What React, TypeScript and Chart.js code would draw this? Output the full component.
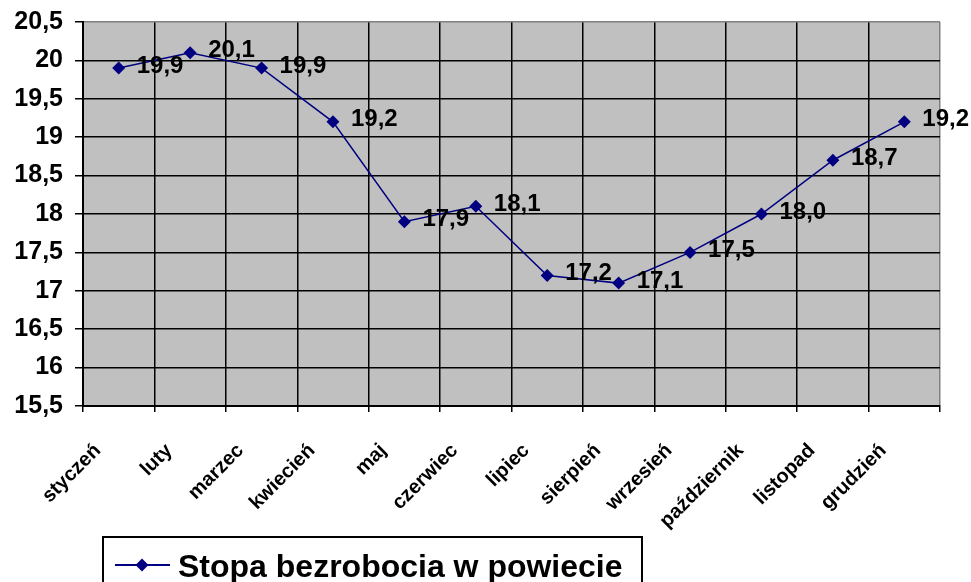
import React, { useEffect, useRef } from "react";
import { Chart, registerables } from "chart.js";

Chart.register(...registerables);

const months = [
  "styczeń",
  "luty",
  "marzec",
  "kwiecień",
  "maj",
  "czerwiec",
  "lipiec",
  "sierpień",
  "wrzesień",
  "październik",
  "listopad",
  "grudzień",
];
const rates = [19.9, 20.1, 19.9, 19.2, 17.9, 18.1, 17.2, 17.1, 17.5, 18.0, 18.7, 19.2];
const seriesLabel = "Stopa bezrobocia w powiecie";
const yMin = 15.5;
const yMax = 20.5;
const yStep = 0.5;

const FONT = "'Liberation Sans', Arial, sans-serif";
const LINE_COLOR = "#000080";

const fmt = (v: number, digits?: number) =>
  (digits === undefined ? String(v) : v.toFixed(digits)).replace(".", ",");

const plotBackground = {
  id: "plotBackground",
  beforeDraw(chart: any) {
    const { ctx, chartArea } = chart;
    ctx.save();
    ctx.fillStyle = "#C0C0C0";
    ctx.fillRect(chartArea.left, chartArea.top, chartArea.right - chartArea.left, chartArea.bottom - chartArea.top);
    ctx.restore();
  },
};

const valueLabels = {
  id: "valueLabels",
  afterDatasetsDraw(chart: any) {
    const { ctx } = chart;
    const meta = chart.getDatasetMeta(0);
    const data = chart.data.datasets[0].data as number[];
    ctx.save();
    ctx.font = `bold 24px ${FONT}`;
    ctx.fillStyle = "#000";
    ctx.textAlign = "left";
    ctx.textBaseline = "middle";
    meta.data.forEach((pt: any, i: number) => {
      ctx.fillText(fmt(data[i], 1), pt.x + 18, pt.y - 2);
    });
    ctx.restore();
  },
};

const boxedLegend = {
  id: "boxedLegend",
  afterDraw(chart: any) {
    const { ctx } = chart;
    const ds = chart.data.datasets[0];
    ctx.save();
    ctx.strokeStyle = "#000";
    ctx.lineWidth = 2;
    ctx.strokeRect(103, 537, 539, 60);
    const y = 565;
    ctx.strokeStyle = ds.borderColor;
    ctx.lineWidth = 2;
    ctx.beginPath();
    ctx.moveTo(115, y);
    ctx.lineTo(170, y);
    ctx.stroke();
    ctx.fillStyle = ds.pointBackgroundColor;
    const r = 6.5;
    ctx.beginPath();
    ctx.moveTo(142, y - r);
    ctx.lineTo(142 + r, y);
    ctx.lineTo(142, y + r);
    ctx.lineTo(142 - r, y);
    ctx.closePath();
    ctx.fill();
    ctx.fillStyle = "#000";
    ctx.font = `bold 32px ${FONT}`;
    ctx.textAlign = "left";
    ctx.textBaseline = "alphabetic";
    ctx.fillText(ds.label, 178, 577);
    ctx.restore();
  },
};

export default function App() {
  const ref = useRef<HTMLCanvasElement | null>(null);

  useEffect(() => {
    if (!ref.current) return;
    const chart = new Chart(ref.current, {
      type: "line",
      data: {
        labels: months,
        datasets: [
          {
            label: seriesLabel,
            data: rates,
            borderColor: LINE_COLOR,
            backgroundColor: LINE_COLOR,
            pointBackgroundColor: LINE_COLOR,
            pointBorderColor: LINE_COLOR,
            borderWidth: 1.5,
            pointStyle: "rectRot",
            pointRadius: 6.5,
            pointBorderWidth: 0,
            tension: 0,
          },
        ],
      },
      options: {
        animation: false,
        responsive: false,
        layout: { padding: { top: 22, right: 31, bottom: 0, left: 0 } },
        plugins: {
          legend: { display: false },
          tooltip: { enabled: false },
        },
        scales: {
          x: {
            offset: true,
            grid: {
              offset: true,
              color: (c: any) => (c.type === "tick" ? "#000" : "#808080"),
              tickColor: "#000",
              tickLength: 6,
              lineWidth: 1.5,
            },
            border: { color: "#000", width: 2 },
            ticks: {
              autoSkip: false,
              minRotation: 45,
              maxRotation: 45,
              color: "#000",
              padding: 27,
              labelOffset: -21,
              font: { family: FONT, size: 20, weight: "bold" },
            },
            afterFit: (scale: any) => {
              scale.height = 176;
            },
          },
          y: {
            min: yMin,
            max: yMax,
            ticks: {
              stepSize: yStep,
              color: "#000",
              padding: 12,
              font: { family: FONT, size: 25, weight: "bold" },
              callback: (v: any) => fmt(Number(v)),
            },
            grid: {
              color: (c: any) => (c.tick && c.tick.value === yMax ? "#808080" : "#000"),
              tickColor: "#000",
              tickLength: 8,
              lineWidth: 1.5,
            },
            border: { color: "#000", width: 2 },
            afterFit: (scale: any) => {
              scale.width = 83;
              scale.paddingTop = 0;
              scale.paddingBottom = 0;
            },
          },
        },
      },
      plugins: [plotBackground, valueLabels, boxedLegend],
    });
    return () => chart.destroy();
  }, []);

  return (
    <div style={{ position: "fixed", left: 0, top: 0, width: 971, height: 582, background: "#fff" }}>
      <canvas ref={ref} width={971} height={582} style={{ width: 971, height: 582, display: "block" }} />
    </div>
  );
}
